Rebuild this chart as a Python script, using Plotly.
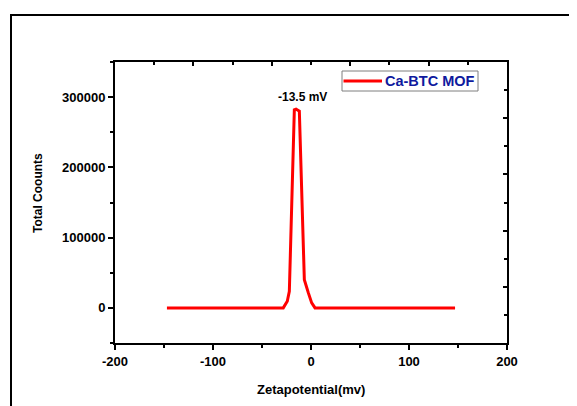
import plotly.graph_objects as go

# ---- data ----
zeta_mv = [-147, -28.3, -24.2, -22.1, -17.0, -15.3, -11.9, -6.8, -2.7, 0.7, 4.1, 147]
total_counts = [0, 0, 9400, 23500, 282100, 283000, 280100, 40100, 21300, 7100, 0, 0]
series_name = "Ca-BTC MOF"
peak_label = "-13.5 mV"
peak_label_x = -9
peak_label_y = 300000
x_tickvals = [-200, -100, 0, 100, 200]
x_ticktext = ["-200", "-100", "0", "100", "200"]
x_title = "Zetapotential(mv)"
y_title = "Total Coounts"

FONT = "Arial, 'Liberation Sans', sans-serif"

# page is offset by the 8px body margin, so the figure is 8px smaller
W, H = 569, 398
L, R, T, B = 107, 70, 54, 63
PW, PH = W - L - R, H - T - B


def px_x(page_x):
    return (page_x - 8 - L) / PW


def px_y(page_y):
    return (H - B - (page_y - 8)) / PH


fig = go.Figure()
fig.add_trace(go.Scatter(
    x=zeta_mv, y=total_counts, mode="lines", name=series_name,
    line=dict(color="#FF0000", width=3), showlegend=False,
))
# helper (empty) trace so the mirrored top/right tick axes are drawn
fig.add_trace(go.Scatter(x=[], y=[], xaxis="x2", yaxis="y2",
                         showlegend=False, hoverinfo="skip"))

tick_font = dict(family=FONT, size=13, weight="bold", color="black")

fig.update_layout(
    width=W, height=H,
    margin=dict(l=L, r=R, t=T, b=B, autoexpand=False),
    paper_bgcolor="white", plot_bgcolor="white",
    font=dict(family=FONT, color="black", size=12),
    showlegend=False,
    xaxis=dict(
        range=[-200, 200], tickmode="array", tickvals=x_tickvals, ticktext=x_ticktext,
        showline=True, linecolor="black", linewidth=2,
        ticks="outside", ticklen=5, tickwidth=2, tickcolor="black",
        minor=dict(dtick=50, tick0=0, ticks="outside", ticklen=3, tickwidth=2, tickcolor="black"),
        showgrid=False, zeroline=False, tickfont=tick_font,
    ),
    yaxis=dict(
        range=[-50000, 350000], dtick=100000, tick0=0, tickformat="d",
        showline=True, linecolor="black", linewidth=2,
        ticks="outside", ticklen=5, tickwidth=2, tickcolor="black",
        minor=dict(dtick=50000, ticks="outside", ticklen=3, tickwidth=2, tickcolor="black"),
        showgrid=False, zeroline=False, tickfont=tick_font,
    ),
    xaxis2=dict(
        overlaying="x", side="top", range=[0, 5], dtick=1, tick0=0,
        showline=True, linecolor="black", linewidth=2,
        ticks="inside", ticklen=4, tickwidth=2, tickcolor="black",
        minor=dict(dtick=0.5, ticks="inside", ticklen=3, tickwidth=2, tickcolor="black"),
        showticklabels=False, showgrid=False, zeroline=False,
    ),
    yaxis2=dict(
        overlaying="y", side="right", range=[0, 5], dtick=1, tick0=0,
        showline=True, linecolor="black", linewidth=2,
        ticks="inside", ticklen=4, tickwidth=2, tickcolor="black",
        minor=dict(dtick=0.5, ticks="inside", ticklen=3, tickwidth=2, tickcolor="black"),
        showticklabels=False, showgrid=False, zeroline=False,
    ),
    annotations=[
        dict(x=peak_label_x, y=peak_label_y, xref="x", yref="y", text=peak_label,
             showarrow=False, font=dict(family=FONT, size=12, weight="bold", color="black")),
        dict(x=px_x(311), y=px_y(389), xref="paper", yref="paper", text=x_title,
             showarrow=False, xanchor="center", yanchor="middle",
             font=dict(family=FONT, size=13, weight="bold", color="black")),
        dict(x=px_x(38), y=px_y(193), xref="paper", yref="paper", text=y_title,
             textangle=-90, showarrow=False, xanchor="center", yanchor="middle",
             font=dict(family=FONT, size=12, weight="bold", color="black")),
        # legend label
        dict(x=px_x(383), y=px_y(81), xref="paper", yref="paper", text=series_name,
             showarrow=False, xanchor="left", yanchor="middle",
             font=dict(family=FONT, size=14.5, weight="bold", color="#0f1a9e")),
    ],
    shapes=[
        # outer frame (extends past the right/bottom edges)
        dict(type="rect", xref="paper", yref="paper",
             x0=px_x(11), y0=px_y(440), x1=px_x(620), y1=px_y(15),
             line=dict(color="black", width=2), fillcolor="rgba(0,0,0,0)"),
        # legend box
        dict(type="rect", xref="paper", yref="paper",
             x0=px_x(342), y0=px_y(91), x1=px_x(478), y1=px_y(71),
             line=dict(color="#7f7f7f", width=1), fillcolor="white"),
        # legend key
        dict(type="line", xref="paper", yref="paper",
             x0=px_x(343.5), y0=px_y(81), x1=px_x(382), y1=px_y(81),
             line=dict(color="#FF0000", width=3)),
    ],
)

fig.write_html("out.html")
